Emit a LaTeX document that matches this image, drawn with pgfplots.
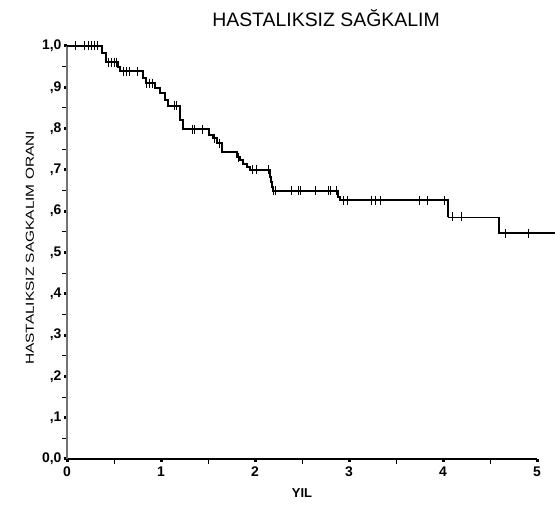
\documentclass[border=0pt]{standalone}
\usepackage{pgfplots}
\pgfplotsset{compat=1.18}
\usepackage{fontspec}
\setmainfont{Liberation Sans}

\begin{document}
\begin{tikzpicture}[x=1bp,y=1bp]
\useasboundingbox (-67,-71) rectangle (488,459);
\begin{axis}[
    at={(0,0)}, anchor=south west,
    scale only axis, width=470bp, height=413bp,
    xmin=0, xmax=5, ymin=0, ymax=1,
    axis x line*=bottom, axis y line*=left,
    clip=false,
    xtick={0,1,2,3,4,5},
    xticklabels={0,1,2,3,4,5},
    minor xtick={0.5,1.5,2.5,3.5,4.5},
    ytick={0,0.1,0.2,0.3,0.4,0.5,0.6,0.7,0.8,0.9,1},
    yticklabels={{0,0},{,1},{,2},{,3},{,4},{,5},{,6},{,7},{,8},{,9},{1,0}},
    minor ytick={0.05,0.15,0.25,0.35,0.45,0.55,0.65,0.75,0.85,0.95},
    tick align=outside,
    major tick length=3bp, minor tick length=5bp,
    tick style={black},
    major tick style={line width=3bp},
    minor tick style={line width=0.9bp},
    x axis line style={line width=2.2bp, black},
    y axis line style={line width=1.6bp, black!55},
    ticklabel style={font=\fontsize{14}{14}\selectfont\bfseries},
    xticklabel style={yshift=-1bp},
    yticklabel style={xshift=1bp},
]
% Kaplan-Meier steps
\addplot[const plot, black, line width=2bp] coordinates {
(0,1.000) (0.37,0.983) (0.415,0.961) (0.54,0.949) (0.56,0.939)
(0.81,0.922) (0.84,0.910) (0.94,0.898) (0.99,0.886) (1.04,0.869)
(1.07,0.855) (1.20,0.821) (1.23,0.799) (1.51,0.785) (1.55,0.777)
(1.60,0.765) (1.65,0.743) (1.81,0.731) (1.84,0.724) (1.87,0.714)
(1.91,0.706) (1.95,0.700) (2.16,0.683) (2.17,0.671) (2.18,0.659)
(2.19,0.649) (2.88,0.634) (2.90,0.627) (4.05,0.586)
};
\addplot[black, line width=0.9bp] coordinates {(4.05,0.586) (4.60,0.586)};
\addplot[black, line width=2bp] coordinates {(4.60,0.586) (4.60,0.547) (5.19,0.547)};
% censored
\addplot[only marks, mark=|, mark size=4.5bp, mark options={line width=1bp, black}] coordinates {
(0.09,1.0) (0.19,1.0) (0.23,1.0) (0.26,1.0) (0.29,1.0) (0.32,1.0)
(0.44,0.961) (0.47,0.961) (0.50,0.961) (0.53,0.961)
(0.60,0.939) (0.63,0.939) (0.66,0.939) (0.75,0.939)
(0.85,0.910) (0.88,0.910) (0.91,0.910)
(1.14,0.855) (1.17,0.855)
(1.33,0.799) (1.36,0.799) (1.44,0.799)
(1.57,0.777) (1.62,0.765) (1.82,0.731)
(1.97,0.700) (2.02,0.700) (2.14,0.700)
(2.20,0.649) (2.22,0.649) (2.39,0.649) (2.46,0.649) (2.48,0.649)
(2.64,0.649) (2.78,0.649) (2.80,0.649) (2.87,0.649)
(2.94,0.627) (2.98,0.627) (3.24,0.627) (3.28,0.627) (3.34,0.627)
(3.75,0.627) (3.84,0.627) (4.02,0.627)
(4.10,0.586) (4.20,0.586)
(4.67,0.547) (4.91,0.547)
};
\end{axis}
\node at (259,441) {\fontsize{19.5}{19.5}\selectfont HASTALIKSIZ SAĞKALIM};
\node[rotate=90] at (-37,211) {\scalebox{1}[0.75]{\fontsize{15.5}{15.5}\selectfont HASTALIKSIZ SAGKALIM ORANI}};
\node at (235,-34) {\fontsize{13}{13}\selectfont\bfseries YIL};
\end{tikzpicture}
\end{document}
